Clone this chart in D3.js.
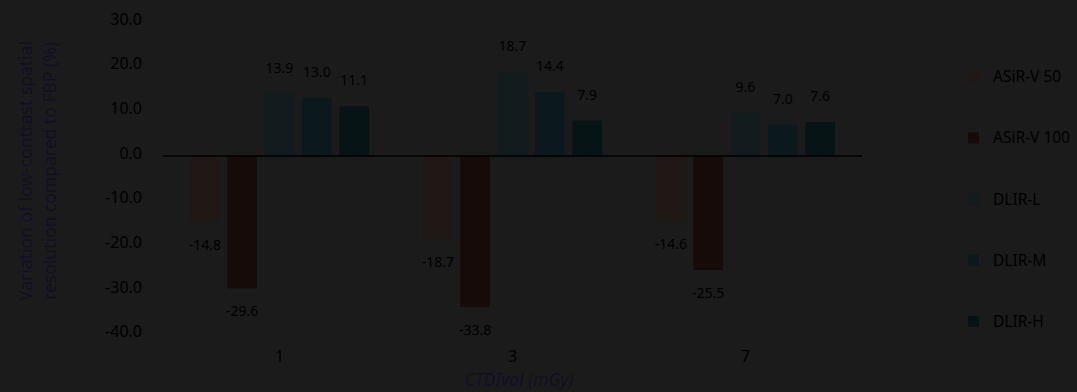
<!DOCTYPE html>
<html>
<head>
<meta charset="utf-8">
<script src="https://cdn.jsdelivr.net/npm/d3@7"></script>
<style>
  html, body { margin: 0; padding: 0; background: #1b1b1b; }
  svg { display: block; font-family: 'Noto Sans', sans-serif; }
</style>
</head>
<body>
<div id="chart"></div>
<script>
const doses = ['1', '3', '7']
const series = ['ASiR-V 50', 'ASiR-V 100', 'DLIR-L', 'DLIR-M', 'DLIR-H']
const values = [
  [-14.8, -29.6, 13.9, 13.0, 11.1],
  [-18.7, -33.8, 18.7, 14.4, 7.9],
  [-14.6, -25.5, 9.6, 7.0, 7.6]
]
const yTicks = [30, 20, 10, 0, -10, -20, -30, -40]
const colors = ['#1f1815', '#170b09', '#121b1e', '#0c191c', '#071416']

const width = 1077, height = 392
const svg = d3.select('#chart').append('svg')
  .attr('width', width)
  .attr('height', height)

const x0 = d3.scaleBand()
  .domain(doses)
  .range([163, 862])
  .paddingInner(0.232)
  .paddingOuter(0.116)
const x1 = d3.scaleBand()
  .domain(series)
  .range([0, x0.bandwidth()])
  .paddingInner(0.21)
const y = d3.scaleLinear()
  .domain([-40, 30])
  .range([334.8, 21.9])

// y tick labels, no axis line
svg.selectAll('.ytick')
  .data(yTicks)
  .enter().append('text')
  .attr('x', 142)
  .attr('y', d => y(d) - 3)
  .attr('dy', '0.35em')
  .style('text-anchor', 'end')
  .style('font-size', '16px')
  .style('fill', '#000')
  .text(d => d.toFixed(1))

// bars
const groups = svg.selectAll('.group')
  .data(values)
  .enter().append('g')
  .attr('transform', (d, i) => `translate(${x0(doses[i])}, 0)`)

groups.selectAll('rect')
  .data(d => d.map((v, j) => ({key: series[j], value: v, idx: j})))
  .enter().append('rect')
  .attr('x', d => x1(d.key))
  .attr('width', x1.bandwidth())
  .attr('y', d => y(Math.max(0, d.value)))
  .attr('height', d => Math.abs(y(d.value) - y(0)))
  .style('fill', d => colors[d.idx])

groups.selectAll('.vlabel')
  .data(d => d.map((v, j) => ({key: series[j], value: v})))
  .enter().append('text')
  .attr('x', d => x1(d.key) + x1.bandwidth()/2)
  .attr('y', d => d.value >= 0 ? y(d.value) - 26 : y(d.value) + 23)
  .attr('dy', '0.35em')
  .style('text-anchor', 'middle')
  .style('font-size', '14px')
  .style('fill', '#000')
  .text(d => d.value.toFixed(1))

// zero line
svg.append('line')
  .attr('x1', 163)
  .attr('x2', 862)
  .attr('y1', y(0))
  .attr('y2', y(0))
  .style('stroke', '#000')
  .style('stroke-width', 1.5)

// x tick labels
svg.selectAll('.xtick')
  .data(doses)
  .enter().append('text')
  .attr('x', d => x0(d) + x0.bandwidth()/2)
  .attr('y', 356)
  .attr('dy', '0.35em')
  .style('text-anchor', 'middle')
  .style('font-size', '16px')
  .style('fill', '#000')
  .text(d => d)

// axis titles
svg.append('text')
  .attr('x', 519)
  .attr('y', 380)
  .attr('dy', '0.35em')
  .style('text-anchor', 'middle')
  .style('font-size', '17.5px')
  .style('font-style', 'italic')
  .style('fill', '#120f25')
  .text('CTDIvol (mGy)')

const yTitle = svg.append('text')
  .attr('transform', 'translate(38, 171) rotate(-90)')
  .style('text-anchor', 'middle')
  .style('font-size', '17.5px')
  .style('fill', '#120f25')
yTitle.append('tspan')
  .attr('x', 0)
  .attr('y', -12)
  .attr('dy', '0.35em')
  .text('Variation of low-contrast spatial')
yTitle.append('tspan')
  .attr('x', 0)
  .attr('y', 12)
  .attr('dy', '0.35em')
  .text('resolution compared to FBP (%)')

// legend
const legend = svg.selectAll('.legend')
  .data(series)
  .enter().append('g')
  .attr('transform', (d, i) => `translate(968, ${76.7 + i*61.2})`)
legend.append('rect')
  .attr('x', 0)
  .attr('y', -5.5)
  .attr('width', 11)
  .attr('height', 11)
  .style('fill', (d, i) => colors[i])
legend.append('text')
  .attr('x', 25)
  .attr('y', 0)
  .attr('dy', '0.35em')
  .style('font-size', '15.5px')
  .style('fill', '#000')
  .text(d => d)
</script>
</body>
</html>
